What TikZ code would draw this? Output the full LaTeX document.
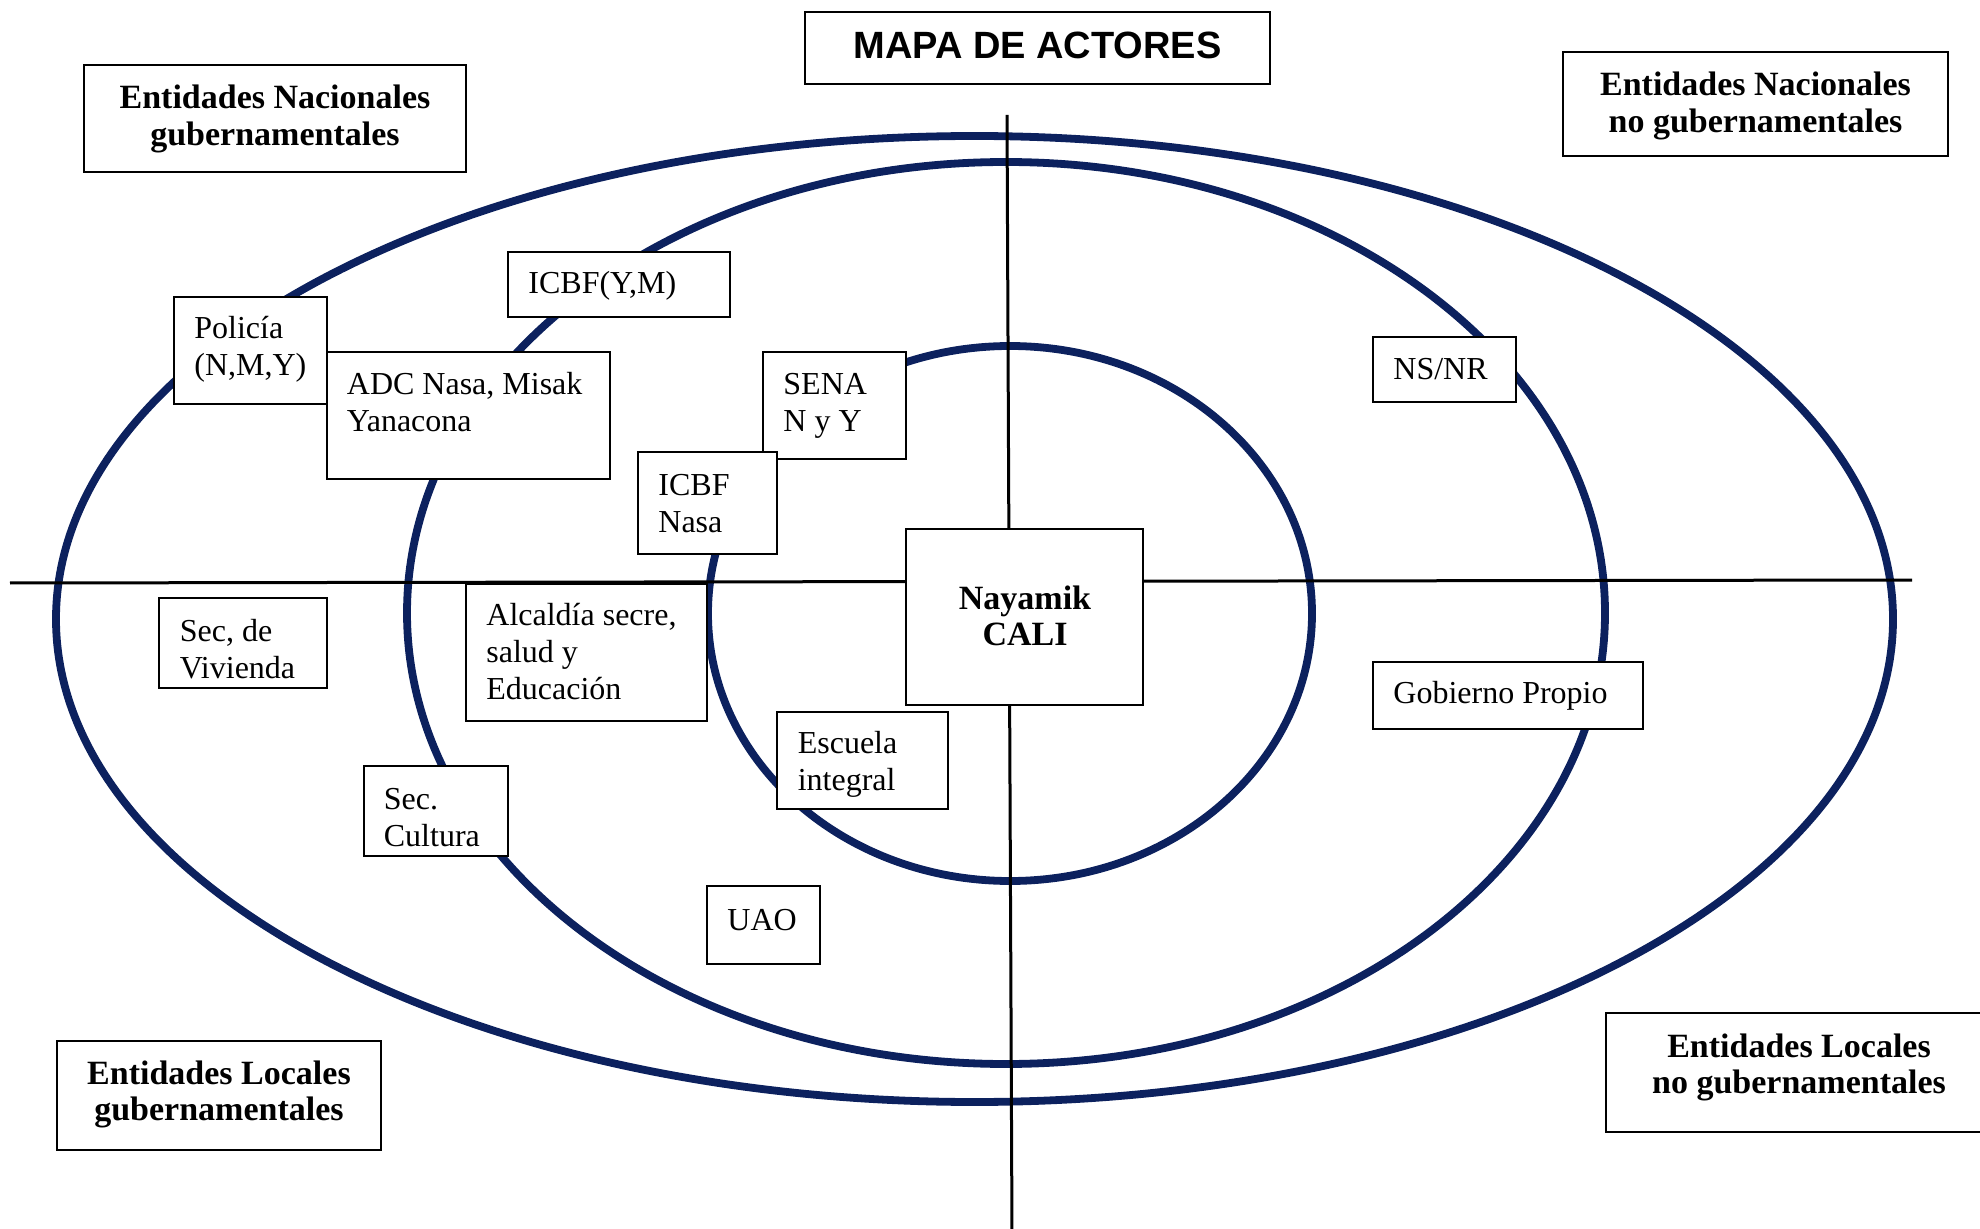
\documentclass[tikz,border=0pt]{standalone}
\usepackage{fontspec}
\setmainfont{Liberation Serif}
\newfontfamily\titlefont{Liberation Sans}
\usetikzlibrary{calc,fit}
\definecolor{navy}{RGB}{12,33,94}
\newcommand\leftlines[1]{\vtop{\halign{##\hfil\cr#1\crcr}}}
\newcommand\centerlines[1]{\vtop{\halign{\hfil##\hfil\cr#1\crcr}}}
\begin{document}
\begin{tikzpicture}[x=0.5pt,y=-0.5pt,
  ring/.style={draw=navy, line width=3.9pt},
  axisline/.style={draw=black, line width=1.5pt},
  actor/.style={draw=black, fill=white, line width=1pt, rectangle, inner sep=0pt},
  txt/.style={inner sep=0pt, anchor=base west, font=\fontsize{16}{18.5}\selectfont},
  htxt/.style={inner sep=0pt, anchor=base, font=\fontsize{17}{18.2}\selectfont\bfseries},
]
\useasboundingbox (0,0) rectangle (1980,1229);
\clip (0,0) rectangle (1980,1229);

% rings
\draw[ring] (974.5,619) ellipse [x radius=459.25pt, y radius=241.5pt];
\draw[ring] (1006,613) ellipse [x radius=299.5pt, y radius=225.5pt];
\draw[ring] (1010,613.5) ellipse [x radius=151pt, y radius=133.75pt];

% axes
\coordinate (hl) at (10,583);
\coordinate (hr) at (1912,580);
\coordinate (vt) at (1007,115);
\coordinate (vb) at (1012,1235);
\draw[axisline] (hl) -- (hr);
\draw[axisline] (vt) -- (vb);

% title
\node[actor, fit={(805,12) (1270,84)}] (title) {};
\node[inner sep=0pt, anchor=base, font=\titlefont\fontsize{19}{22}\selectfont\bfseries] (title-t) at (1037.5,59) {MAPA DE ACTORES};

% headings
\node[actor, fit={(83.5,65) (466,172)}] (eng) {};
\node[htxt] (eng-t) at (275,109) {\centerlines{Entidades Nacionales\cr gubernamentales}};
\node[actor, fit={(1563,52) (1948,156)}] (enng) {};
\node[htxt] (enng-t) at (1755.5,96) {\centerlines{Entidades Nacionales\cr no gubernamentales}};
\node[actor, fit={(57,1041) (381,1150)}] (elg) {};
\node[htxt] (elg-t) at (219,1084) {\centerlines{Entidades Locales\cr gubernamentales}};
\node[actor, fit={(1605.5,1013) (1995,1132)}] (elng) {};
\node[htxt] (elng-t) at (1799,1057) {\centerlines{Entidades Locales\cr no gubernamentales}};

% actors
\node[actor, fit={(508,252) (730,317)}] (icbfym) {};
\node[txt] (icbfym-t) at ($(icbfym.north west)+(21,43)$) {ICBF(Y,M)};

\node[actor, fit={(174,297) (326.5,404)}] (policia) {};
\node[txt] (policia-t) at ($(policia.north west)+(21,43)$) {\leftlines{Policía\cr (N,M,Y)}};

\node[actor, fit={(326.5,352) (610,479.5)}] (adc) {};
\node[txt] (adc-t) at ($(adc.north west)+(21,44)$) {\leftlines{ADC Nasa, Misak\cr Yanacona}};

\node[actor, fit={(763,352) (905.6,459)}] (sena) {};
\node[txt] (sena-t) at ($(sena.north west)+(21,44)$) {\leftlines{SENA\cr N y Y}};

\node[actor, fit={(638,452.5) (777,554)}] (icbfn) {};
\node[txt] (icbfn-t) at ($(icbfn.north west)+(21,43.5)$) {\leftlines{ICBF\cr Nasa}};

\node[actor, fit={(1373,337) (1516,402)}] (nsnr) {};
\node[txt] (nsnr-t) at ($(nsnr.north west)+(21,44)$) {NS/NR};

\node[actor, fit={(906,529) (1143,705)}] (naya) {};
\node[htxt] (naya-t) at (1025,609) {\centerlines{Nayamik\cr CALI}};

\node[actor, fit={(159.4,598) (326.5,688)}] (viv) {};
\node[txt] (viv-t) at ($(viv.north west)+(21,44)$) {\leftlines{Sec, de\cr Vivienda}};

\node[actor, fit={(466,584) (707,720.5)}] (alc) {};
\node[txt] (alc-t) at ($(alc.north west)+(21,42)$) {\leftlines{Alcaldía secre,\cr salud y\cr Educación}};

\node[actor, fit={(777.4,711.6) (947.7,808.8)}] (esc) {};
\node[txt] (esc-t) at ($(esc.north west)+(21,43)$) {\leftlines{Escuela\cr integral}};

\node[actor, fit={(363.5,766) (508,856)}] (cult) {};
\node[txt] (cult-t) at ($(cult.north west)+(21,44)$) {\leftlines{Sec.\cr Cultura}};

\node[actor, fit={(707,886) (820,964)}] (uao) {};
\node[txt] (uao-t) at ($(uao.north west)+(21,45)$) {UAO};

\node[actor, fit={(1373,662) (1643,729)}] (gob) {};
\node[txt] (gob-t) at ($(gob.north west)+(21,42)$) {Gobierno Propio};
\end{tikzpicture}
\end{document}
